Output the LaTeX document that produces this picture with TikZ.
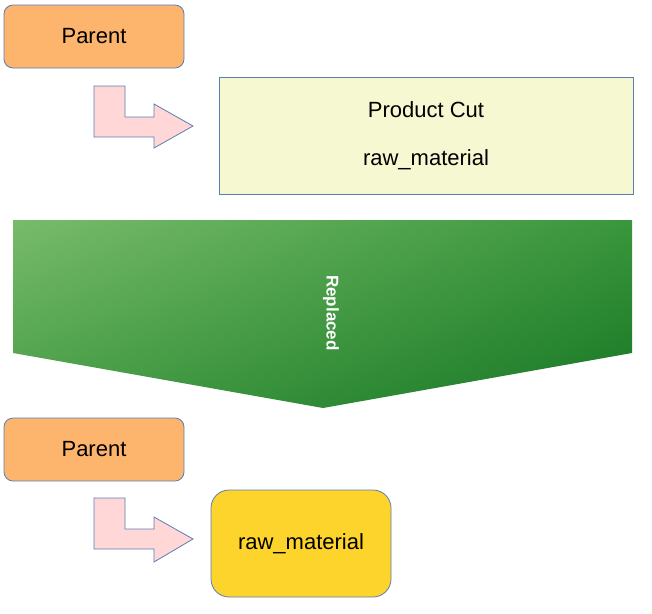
\documentclass[tikz,border=0pt]{standalone}
\usepackage{fontspec}
\setmainfont{Liberation Sans}
\usetikzlibrary{calc,shadings}
\definecolor{edgeblue}{HTML}{5A7DB5}
\definecolor{parentorange}{HTML}{FDB46D}
\definecolor{cutyellow}{HTML}{F6F8D2}
\definecolor{rawgold}{HTML}{FDD42B}
\definecolor{bendpink}{HTML}{FFD7D7}
\definecolor{greenUL}{HTML}{78BB6A}
\definecolor{greenUR}{HTML}{3A963C}
\definecolor{greenLL}{HTML}{489E46}
\definecolor{greenLR}{HTML}{167624}
\tikzset{
  parentbox/.style={draw=edgeblue,fill=parentorange,rounded corners=9pt,
    minimum width=180pt,minimum height=63pt,inner sep=0pt,
    font=\fontsize{22}{26}\selectfont},
  cutbox/.style={draw=edgeblue,fill=cutyellow,minimum width=414pt,
    minimum height=117pt,inner sep=0pt},
  rawbox/.style={draw=edgeblue,fill=rawgold,rounded corners=18pt,
    minimum width=180pt,minimum height=107pt,inner sep=0pt,
    font=\fontsize{22}{26}\selectfont},
  bendarrow/.style={draw=edgeblue,fill=bendpink,line width=0.8pt}
}

\begin{document}
\begin{tikzpicture}[x=1pt,y=-1pt,line width=0.8pt]
      \useasboundingbox (0,0) rectangle (652,613);
      \node[parentbox] (parent1) at (94,36.5) {Parent};
      \node[cutbox] (cut) at (426,135.5) {};
      \node[font=\fontsize{22}{26}\selectfont] (cuttitle) at (426,110) {Product Cut};
      \node[font=\fontsize{22}{26}\selectfont] (cutraw) at (426,160) {raw\_material};
      \draw[bendarrow] (94,86) -- (125,86) -- (125,117) -- (154,117) -- (154,104)
        -- (193,126) -- (154,148) -- (154,137) -- (94,137) -- cycle;
      \shade[upper left=greenUL,upper right=greenUR,
             lower left=greenLL,lower right=greenLR]
        (13,220) -- (632,220) -- (632,353) -- (323,408) -- (13,353) -- cycle;
      \node[rotate=-90,text=white,font=\bfseries\fontsize{17}{20}\selectfont] (replaced) at (331,313) {Replaced};
      \node[parentbox] (parent2) at (94,449.5) {Parent};
      \draw[bendarrow] (94,498) -- (125,498) -- (125,529) -- (154,529) -- (154,517)
        -- (193,539) -- (154,562) -- (154,549) -- (94,549) -- cycle;
      \node[rawbox] (raw) at (301,543.5) {raw\_material};
    \end{tikzpicture}
\end{document}
